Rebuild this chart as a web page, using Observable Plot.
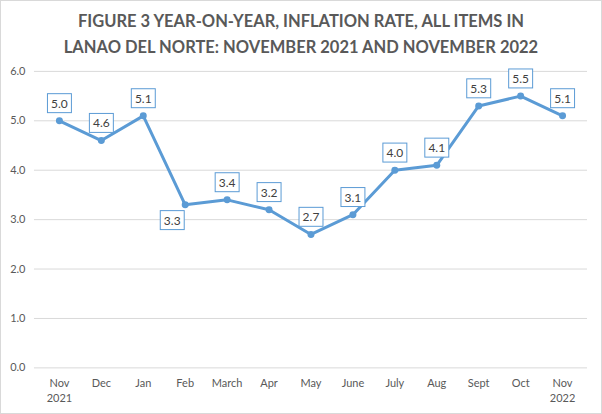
<!DOCTYPE html>
<html><head><meta charset="utf-8">
<script src="https://cdn.jsdelivr.net/npm/d3@7"></script>
<script src="https://cdn.jsdelivr.net/npm/@observablehq/plot@0.6"></script>
<style>
html,body{margin:0;padding:0;background:#fff;}
#wrap{position:relative;width:600px;height:412px;border:1px solid #d9d9d9;font-family:Lato,"Open Sans",sans-serif;overflow:hidden;}
#title{position:absolute;left:0;top:7px;width:600px;text-align:center;font-weight:bold;font-size:16.5px;line-height:26px;color:#595959;}
#chart{position:absolute;left:-1px;top:-1px;}
</style></head>
<body><div id="wrap"><div id="title">FIGURE 3 YEAR-ON-YEAR, INFLATION RATE, ALL ITEMS IN<br>LANAO DEL NORTE: NOVEMBER 2021 AND NOVEMBER 2022</div><div id="chart"></div></div>
<script>
const months = ["Nov 2021","Dec","Jan","Feb","March","Apr","May","June","July","Aug","Sept","Oct","Nov 2022"];
const tickLabels = ["Nov\n2021","Dec","Jan","Feb","March","Apr","May","June","July","Aug","Sept","Oct","Nov\n2022"];
const rates = [5.0,4.6,5.1,3.3,3.4,3.2,2.7,3.1,4.0,4.1,5.3,5.5,5.1];
const yTicks = [0,1,2,3,4,5,6];

const data = months.map((m,i)=>({month:m, rate:rates[i], below: i===3}));
const blue = "#5B9BD5";

const chart = Plot.plot({
  width: 602, height: 414,
  marginTop: 71, marginBottom: 46, marginLeft: 34, marginRight: 14,
  style: {fontFamily: "Lato, 'Open Sans', sans-serif", fontSize: "11px", color: "#595959", background: "transparent"},
  x: {type: "point", domain: months, padding: 0.52, align: 0.5, label: null},
  y: {domain: [0,6], label: null},
  marks: [
    Plot.gridY(yTicks, {stroke: "#d9d9d9", strokeOpacity: 1, strokeWidth: 1}),
    Plot.axisY(yTicks, {tickSize: 0, tickPadding: 9, tickFormat: d => d.toFixed(1), label: null}),
    Plot.axisX(months, {tickSize: 0, tickPadding: 9, lineHeight: 1.35, label: null,
      tickFormat: d => tickLabels[months.indexOf(d)]}),
    Plot.line(data, {x: "month", y: "rate", stroke: blue, strokeWidth: 3}),
    Plot.dot(data, {x: "month", y: "rate", fill: blue, r: 3.5}),
    Plot.text(data.filter(d=>!d.below), {x: "month", y: "rate", text: d => d.rate.toFixed(1), dy: -17, fill: "#404040", fontSize: 12, className: "lbl"}),
    Plot.text(data.filter(d=>d.below), {x: "month", y: "rate", text: d => d.rate.toFixed(1), dx: -13, dy: 16, fill: "#404040", fontSize: 12, className: "lbl"})
  ]
});
document.getElementById("chart").appendChild(chart);
// draw boxes around data labels
chart.querySelectorAll("g.lbl text").forEach(t => {
  const b = t.getBBox();
  const r = document.createElementNS("http://www.w3.org/2000/svg","rect");
  const w = 24, h = 19;
  r.setAttribute("x", b.x + b.width/2 - w/2);
  r.setAttribute("y", b.y + b.height/2 - h/2);
  r.setAttribute("width", w); r.setAttribute("height", h);
  r.setAttribute("fill", "#fff"); r.setAttribute("stroke", blue); r.setAttribute("stroke-width", 1);
  const tr = t.getAttribute("transform");
  if (tr) r.setAttribute("transform", tr);
  t.parentNode.insertBefore(r, t);
});
</script></body></html>
